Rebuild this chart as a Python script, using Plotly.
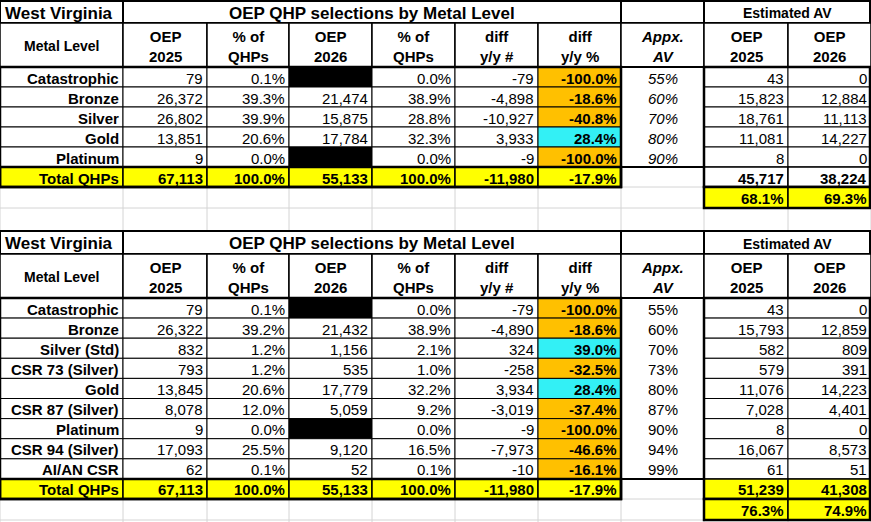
import plotly.graph_objects as go

# ---- data ----
col_heads = ["Metal Level", "OEP<br>2025", "% of<br>QHPs", "OEP<br>2026", "% of<br>QHPs",
             "diff<br>y/y #", "diff<br>y/y %", "<i>Appx.<br>AV</i>", "OEP<br>2025", "OEP<br>2026"]

top_levels = ["Catastrophic", "Bronze", "Silver", "Gold", "Platinum"]
top_2025 = ["79", "26,372", "26,802", "13,851", "9"]
top_pct25 = ["0.1%", "39.3%", "39.9%", "20.6%", "0.0%"]
top_2026 = ["", "21,474", "15,875", "17,784", ""]
top_pct26 = ["0.0%", "38.9%", "28.8%", "32.3%", "0.0%"]
top_diff = ["-79", "-4,898", "-10,927", "3,933", "-9"]
top_diffp = ["-100.0%", "-18.6%", "-40.8%", "28.4%", "-100.0%"]
top_av = ["55%", "60%", "70%", "80%", "90%"]
top_av25 = ["43", "15,823", "18,761", "11,081", "8"]
top_av26 = ["0", "12,884", "11,113", "14,227", "0"]
top_total = ["Total QHPs", "67,113", "100.0%", "55,133", "100.0%", "-11,980", "-17.9%", "", "45,717", "38,224"]
top_avpct = ["68.1%", "69.3%"]

bot_levels = ["Catastrophic", "Bronze", "Silver (Std)", "CSR 73 (Silver)", "Gold",
              "CSR 87 (Silver)", "Platinum", "CSR 94 (Silver)", "AI/AN CSR"]
bot_2025 = ["79", "26,322", "832", "793", "13,845", "8,078", "9", "17,093", "62"]
bot_pct25 = ["0.1%", "39.2%", "1.2%", "1.2%", "20.6%", "12.0%", "0.0%", "25.5%", "0.1%"]
bot_2026 = ["", "21,432", "1,156", "535", "17,779", "5,059", "", "9,120", "52"]
bot_pct26 = ["0.0%", "38.9%", "2.1%", "1.0%", "32.2%", "9.2%", "0.0%", "16.5%", "0.1%"]
bot_diff = ["-79", "-4,890", "324", "-258", "3,934", "-3,019", "-9", "-7,973", "-10"]
bot_diffp = ["-100.0%", "-18.6%", "39.0%", "-32.5%", "28.4%", "-37.4%", "-100.0%", "-46.6%", "-16.1%"]
bot_av = ["55%", "60%", "70%", "73%", "80%", "87%", "90%", "94%", "99%"]
bot_av25 = ["43", "15,793", "582", "579", "11,076", "7,028", "8", "16,067", "61"]
bot_av26 = ["0", "12,859", "809", "391", "14,223", "4,401", "0", "8,573", "51"]
bot_total = ["Total QHPs", "67,113", "100.0%", "55,133", "100.0%", "-11,980", "-17.9%", "", "51,239", "41,308"]
bot_avpct = ["76.3%", "74.9%"]

# ---- layout geometry ----
XS = [0, 123, 207, 289, 372, 455, 538, 621, 704, 788, 871]
W, H = 871, 522
ORANGE, CYAN, YELLOW = "#FFC000", "#33F0F5", "#FFFF00"
SANS = "Liberation Sans, Arial"

shapes, annos = [], []


def rect(x0, x1, y0, y1, fill=None, lw=1, color="black"):
    shapes.append(dict(type="rect", x0=x0, x1=x1, y0=y0, y1=y1, xref="x", yref="y",
                       fillcolor=fill or "rgba(0,0,0,0)",
                       line=dict(width=lw, color=color) if lw else dict(width=0)))


def txt(x0, x1, y0, y1, s, align="right", size=15, bold=False, italic=False):
    if not s:
        return
    if bold:
        s = "<b>" + s + "</b>"
    if italic:
        s = "<i>" + s + "</i>"
    x = {"right": x1 - 2, "center": (x0 + x1) / 2, "left": x0 + 3}[align]
    annos.append(dict(x=x, y=(y0 + y1) / 2 + 1, xref="x", yref="y", text=s, showarrow=False,
                      xanchor=align, yanchor="middle",
                      font=dict(family=SANS, size=size, color="black")))


# light grid behind everything
for x in XS:
    shapes.append(dict(type="line", x0=x, x1=x, y0=0, y1=H, xref="x", yref="y",
                       line=dict(color="#d4d4d4", width=1)))


def table(y_title, y_head, rows_y, levels, cols, total, avpct, av_italic, fsize, av_total_yellow):
    yt0, yt1 = y_title
    yh1 = y_head
    for y in [rows_y[-1][1], rows_y[-1][1] + 21]:
        shapes.append(dict(type="line", x0=0, x1=W, y0=y, y1=y, xref="x", yref="y",
                           line=dict(color="#d4d4d4", width=1)))
    # title row
    rect(0, XS[1], yt0, yt1, "white", 2)
    txt(0, XS[1], yt0, yt1, "West Virginia", "left", 17, True)
    rect(XS[1], XS[7], yt0, yt1, "white", 2)
    txt(XS[1], XS[7], yt0, yt1, "OEP QHP selections by Metal Level", "center", 17, True)
    rect(XS[7], XS[8], yt0, yt1, "white", 2)
    rect(XS[8], XS[10] - 1, yt0, yt1, "white", 2)
    txt(XS[8], XS[10], yt0, yt1, "Estimated AV", "center", 14, True)
    # header row
    for c, h in enumerate(col_heads):
        rect(XS[c], XS[c + 1], yt1, yh1, "white", 1.5)
        txt(XS[c], XS[c + 1], yt1, yh1, h, "center", 15 if c else 14, True)
    # data rows
    for r in range(len(levels)):
        y0, y1 = rows_y[r]
        for c in range(10):
            v = levels[r] if c == 0 else cols[c - 1][r]
            fill = "white"
            if c == 3 and v == "":
                fill = "black"
            if c == 6:
                fill = CYAN if not v.startswith("-") else ORANGE
            if c == 7:
                rect(XS[c], XS[c + 1], y0, y1, "white", 0)
            else:
                rect(XS[c], XS[c + 1], y0, y1, fill, 1)
            if c == 0:
                txt(XS[c], XS[c + 1], y0, y1, v, "right", 15, True)
            elif c == 6:
                txt(XS[c], XS[c + 1], y0, y1, v, "right", fsize, True)
            elif c == 7:
                txt(XS[c], XS[c + 1], y0, y1, v, "center", fsize, italic=av_italic)
            else:
                txt(XS[c], XS[c + 1], y0, y1, v, "right", fsize)
    # total row
    y0, y1 = rows_y[-1]
    for c in range(10):
        if c == 7:
            continue
        fill = YELLOW if (c < 7 or av_total_yellow) else "white"
        rect(XS[c], XS[c + 1], y0, y1, fill, 1.5)
        txt(XS[c], XS[c + 1], y0, y1, total[c], "right", 15 if c == 0 else fsize, True)
    # thick outlines
    rect(0, XS[7], yh1, y1, None, 2.5)
    rect(0, XS[7], y0, y1, None, 2.5)
    rect(XS[7], XS[8], yh1, y0, None, 2)
    rect(XS[8], XS[10] - 1, yh1, y1, None, 2.5)
    # av pct row
    p0, p1 = y1, y1 + 21
    for i, c in enumerate([8, 9]):
        rect(XS[c], XS[c + 1], p0, p1, YELLOW, 1.5)
        txt(XS[c], XS[c + 1], p0, p1, avpct[i], "right", fsize, True)
    rect(XS[8], XS[10] - 1, p0, p1, None, 2.5)


top_rows = [(67 + 20 * i, 87 + 20 * i) for i in range(6)]
table((1, 23), 67, top_rows, top_levels,
      [top_2025, top_pct25, top_2026, top_pct26, top_diff, top_diffp, top_av, top_av25, top_av26],
      top_total, top_avpct, True, 15, False)

bot_rows = [(298 + 20.1 * i, 298 + 20.1 * (i + 1)) for i in range(10)]
table((231, 254), 298, bot_rows, bot_levels,
      [bot_2025, bot_pct25, bot_2026, bot_pct26, bot_diff, bot_diffp, bot_av, bot_av25, bot_av26],
      bot_total, bot_avpct, False, 15, True)

fig = go.Figure(go.Scatter(x=[0, W], y=[0, H], mode="markers", marker=dict(opacity=0),
                           hoverinfo="skip", showlegend=False))
fig.update_layout(
    width=W, height=H, margin=dict(l=0, r=0, t=0, b=0),
    plot_bgcolor="white", paper_bgcolor="white",
    xaxis=dict(range=[0, W], visible=False, fixedrange=True),
    yaxis=dict(range=[H, 0], visible=False, fixedrange=True),
    shapes=shapes, annotations=annos,
)
fig.write_html("out.html", config={"displayModeBar": False},
               post_script="document.body.style.margin='0';document.body.style.overflow='hidden';")
